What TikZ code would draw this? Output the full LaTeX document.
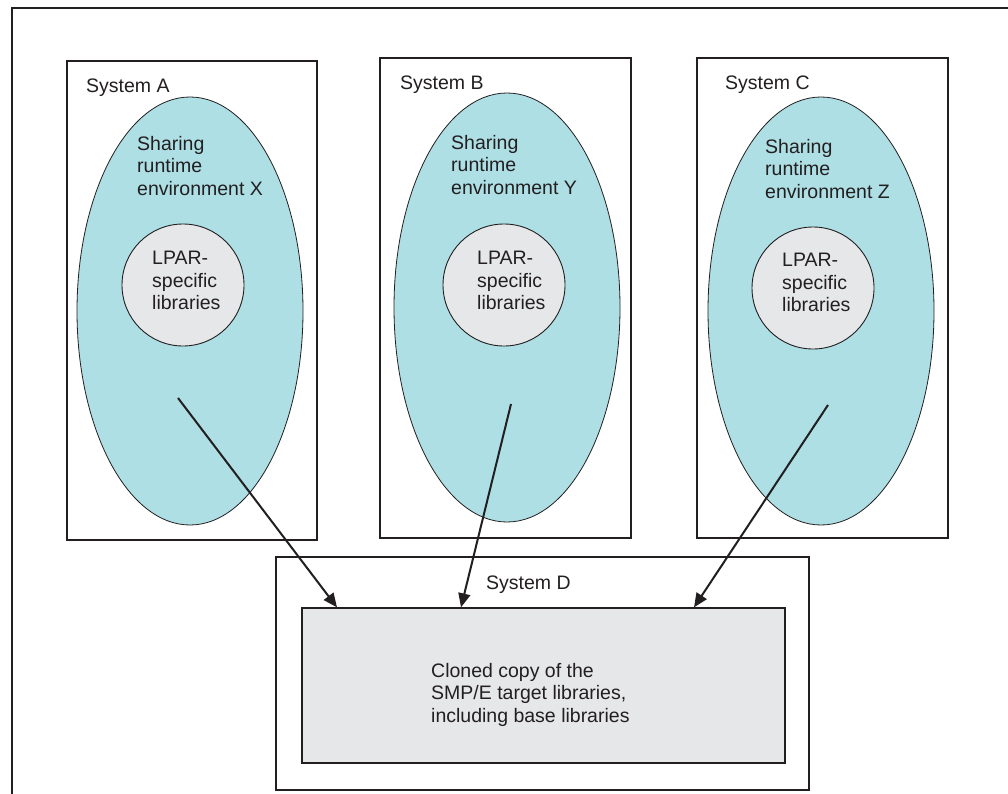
\documentclass[tikz,border=0pt]{standalone}
\usepackage{fontspec}
\setmainfont{Liberation Sans}
\usepackage{tikz}
\usetikzlibrary{shapes}
\usetikzlibrary{positioning}
\usetikzlibrary{arrows.meta}
\definecolor{envcyan}{RGB}{173,223,229}
\definecolor{libgray}{RGB}{230,231,233}
\definecolor{inkline}{RGB}{35,31,32}
\tikzset{
    sysbox/.style = {rectangle, draw=inkline, line width=1.3pt, fill=white, inner sep=0pt},
    envnode/.style = {ellipse, draw=inkline, line width=0.8pt, fill=envcyan, inner sep=0pt, minimum width=226pt},
    libnode/.style = {circle, draw=inkline, line width=0.9pt, fill=libgray, inner sep=0pt, minimum size=122pt},
    clonenode/.style = {rectangle, draw=inkline, line width=1.3pt, fill=libgray, inner sep=0pt},
    txt/.style = {anchor=north west, inner sep=0pt, align=left, text=inkline},
    edgearr/.style = {-{Triangle[length=14pt,width=12pt]}, line width=2pt, inkline},
    framel/.style = {line width=1.5pt, inkline},
    every picture/.style={font issue=\fontsize{19.5}{22.5}},
    font issue/.style={execute at begin picture={#1\selectfont}}
}
\begin{document}
\begin{tikzpicture}[x=1pt,y=-1pt]
\path[use as bounding box] (0,0) rectangle (1008,794);
%
\draw[framel] (12,794) -- (12,8) -- (1008,8);
%
\node[sysbox, minimum width=250pt, minimum height=479pt] at (192,300.5) (sysA) {};
\node[sysbox, minimum width=251pt, minimum height=480pt] at (505.5,298) (sysB) {};
\node[sysbox, minimum width=251pt, minimum height=480pt] at (822.5,298) (sysC) {};
\node[sysbox, minimum width=533pt, minimum height=233pt] at (542.5,673.5) (sysD) {};
%
\node[envnode, minimum height=428pt] at (190,311) (envX) {};
\node[envnode, minimum height=429pt] at (507,307.5) (envY) {};
\node[envnode, minimum height=428pt] at (821,311) (envZ) {};
%
\node[libnode] at (183,285) (libA) {};
\node[libnode] at (504,285) (libB) {};
\node[libnode] at (813,288) (libC) {};
%
\node[clonenode, minimum width=483pt, minimum height=155pt] at (543.5,685.5) (clone) {};
%
\node[txt] at (86,79) (nameA) {System A};
\node[txt] at (400,76) (nameB) {System B};
\node[txt] at (725,76) (nameC) {System C};
\node[txt] at (486,576) (nameD) {System D};
%
\node[txt] at (137,136) (txtX) {Sharing\\runtime\\environment X};
\node[txt] at (451,135) (txtY) {Sharing\\runtime\\environment Y};
\node[txt] at (765,139) (txtZ) {Sharing\\runtime\\environment Z};
%
\node[txt] at (152,251) (txtlA) {LPAR-\\specific\\libraries};
\node[txt] at (477,251) (txtlB) {LPAR-\\specific\\libraries};
\node[txt] at (782,253) (txtlC) {LPAR-\\specific\\libraries};
%
\node[txt] at (431,663) (txtclone) {Cloned copy of the\\SMP/E target libraries,\\including base libraries};
%
\coordinate (srcA) at (178,398);
\coordinate (srcB) at (511,404);
\coordinate (srcC) at (828,405);
\coordinate (tipA) at (337,608);
\coordinate (tipB) at (461,608);
\coordinate (tipC) at (694,608);
%
\draw[edgearr] (srcA) -- (clone.north west -| tipA);
\draw[edgearr] (srcB) -- (clone.north west -| tipB);
\draw[edgearr] (srcC) -- (clone.north west -| tipC);

\end{tikzpicture}
\end{document}
